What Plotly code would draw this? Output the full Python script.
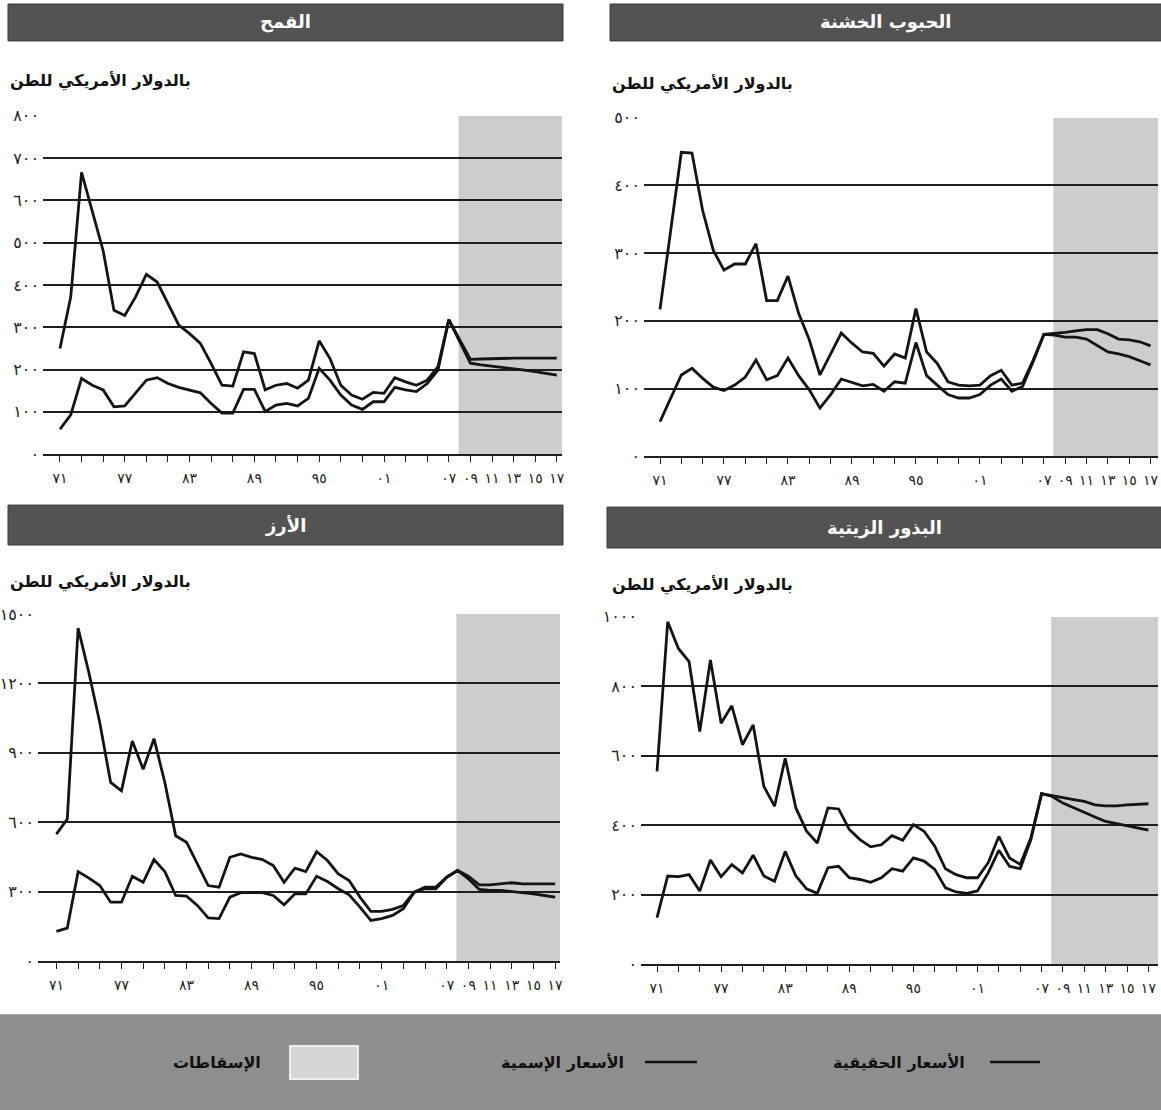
import plotly.graph_objects as go

# ---------------- data ----------------
years = list(range(1971, 2018))

wheat_real = [250, 372, 666, 576, 481, 340, 328, 372, 425, 407,
              356, 305, 285, 262, 214, 163, 161, 242, 238, 152,
              163, 167, 156, 175, 268, 226, 163, 140, 130, 146,
              144, 181, 171, 163, 175, 207, 318, 268, 215, 211,
              208, 206, 203, 199, 195, 191, 187]
wheat_nominal = [59, 93, 179, 163, 152, 112, 114, 144, 175, 181,
                 167, 158, 152, 145, 120, 97, 97, 153, 153, 101,
                 116, 120, 114, 132, 203, 175, 140, 116, 106, 124,
                 124, 158, 152, 148, 167, 199, 318, 270, 224, 225,
                 226, 226, 227, 227, 227, 227, 227]

coarse_real = [217, 333, 449, 448, 363, 304, 275, 284, 284, 314,
               230, 230, 266, 211, 172, 120, 152, 182, 167, 154,
               152, 133, 151, 145, 218, 154, 137, 110, 105, 104,
               105, 119, 127, 105, 108, 142, 180, 179, 176, 176,
               173, 164, 154, 151, 147, 141, 135]
coarse_nominal = [51, 86, 120, 130, 115, 102, 97, 105, 117, 142,
                  113, 119, 145, 119, 98, 71, 91, 114, 109, 104,
                  106, 96, 110, 108, 168, 119, 105, 91, 86, 86,
                  91, 105, 114, 96, 103, 140, 180, 181, 183, 185,
                  187, 187, 181, 173, 172, 169, 163]

rice_real = [549, 614, 1439, 1245, 1030, 772, 736, 951, 829, 961,
             772, 542, 514, 420, 327, 320, 449, 463, 449, 439,
             413, 341, 402, 387, 473, 435, 377, 349, 277, 215,
             215, 224, 241, 298, 320, 320, 363, 392, 356, 310,
             306, 306, 301, 298, 291, 284, 277]
rice_nominal = [129, 143, 387, 359, 327, 255, 255, 367, 341, 439,
                387, 284, 281, 241, 187, 184, 277, 296, 296, 296,
                284, 244, 291, 291, 367, 344, 313, 287, 234, 176,
                184, 198, 227, 298, 313, 313, 363, 392, 367, 330,
                330, 334, 339, 334, 334, 334, 334]

oil_real = [555, 986, 909, 871, 670, 876, 694, 744, 632, 689,
            512, 455, 593, 450, 383, 349, 450, 447, 388, 359,
            338, 344, 370, 357, 402, 383, 340, 275, 258, 249,
            249, 292, 368, 306, 287, 364, 491, 483, 464, 450,
            437, 424, 411, 405, 399, 392, 386]
oil_nominal = [134, 254, 252, 258, 211, 300, 252, 287, 263, 314,
               254, 239, 325, 254, 217, 204, 278, 282, 249, 244,
               236, 249, 275, 268, 306, 297, 273, 220, 208, 204,
               211, 263, 328, 282, 275, 359, 491, 485, 478, 474,
               469, 459, 456, 456, 459, 461, 462]

projection_start = 2007.9

x_tick_vals = [1971, 1973, 1975, 1977, 1979, 1981, 1983, 1985, 1987, 1989,
               1991, 1993, 1995, 1997, 1999, 2001, 2003, 2005, 2007, 2009,
               2011, 2013, 2015, 2017]
x_tick_named = {1971: "٧١", 1977: "٧٧", 1983: "٨٣", 1989: "٨٩", 1995: "٩٥",
                2001: "٠١", 2007: "٠٧", 2009: "٠٩", 2011: "١١", 2013: "١٣",
                2015: "١٥", 2017: "١٧"}
x_tick_text = [x_tick_named.get(v, "") for v in x_tick_vals]

wheat_ticks = [0, 100, 200, 300, 400, 500, 600, 700, 800]
wheat_ticktext = ["٠", "١٠٠", "٢٠٠", "٣٠٠", "٤٠٠", "٥٠٠", "٦٠٠", "٧٠٠", "٨٠٠"]
coarse_ticks = [0, 100, 200, 300, 400, 500]
coarse_ticktext = ["٠", "١٠٠", "٢٠٠", "٣٠٠", "٤٠٠", "٥٠٠"]
rice_ticks = [0, 300, 600, 900, 1200, 1500]
rice_ticktext = ["٠", "٣٠٠", "٦٠٠", "٩٠٠", "١٢٠٠", "١٥٠٠"]
oil_ticks = [0, 200, 400, 600, 800, 1000]
oil_ticktext = ["٠", "٢٠٠", "٤٠٠", "٦٠٠", "٨٠٠", "١٠٠٠"]

titles = ["القمح", "الحبوب الخشنة", "الأرز", "البذور الزيتية"]
unit_label = "بالدولار الأمريكي للطن"
legend_real = "الأسعار الحقيقية"
legend_nominal = "الأسعار الإسمية"
legend_proj = "الإسقاطات"

# ---------------- layout geometry (target pixels) ----------------
W, H = 1161, 1110
EFF_W, EFF_H, TOP = 1158, 1093, 8
FONT = "DejaVu Sans"


def fx(p):
    return p / EFF_W


def fy(p):
    return 1 - (p - TOP) / EFF_H


def clamp(v):
    return max(0.0, min(1.0, v))


panels = [
    dict(title=titles[0], real=wheat_real, nom=wheat_nominal,
         ticks=wheat_ticks, ticktext=wheat_ticktext,
         xdom=(43, 562), xr=(1969.43, 2017.48), ydom=(115, 454),
         bar=(8, 563, 3, 40), unit=(8, 80)),
    dict(title=titles[1], real=coarse_real, nom=coarse_nominal,
         ticks=coarse_ticks, ticktext=coarse_ticktext,
         xdom=(644, 1161), xr=(1969.5, 2017.7), ydom=(117, 456),
         bar=(610, 1165, 3, 40), unit=(610, 83)),
    dict(title=titles[2], real=rice_real, nom=rice_nominal,
         ticks=rice_ticks, ticktext=rice_ticktext,
         xdom=(38, 560), xr=(1969.3, 2017.45), ydom=(614, 962),
         bar=(8, 563, 505, 545), unit=(8, 582)),
    dict(title=titles[3], real=oil_real, nom=oil_nominal,
         ticks=oil_ticks, ticktext=oil_ticktext,
         xdom=(641, 1161), xr=(1969.5, 2017.9), ydom=(617, 965),
         bar=(607, 1165, 507, 548), unit=(610, 585)),
]

fig = go.Figure()
shapes = []
annotations = []
layout_axes = {}

for i, p in enumerate(panels):
    n = "" if i == 0 else str(i + 1)
    xref, yref = "x" + n, "y" + n
    shapes.append(dict(type="rect", xref=xref, yref=yref,
                       x0=projection_start, x1=p["xr"][1],
                       y0=0, y1=p["ticks"][-1],
                       fillcolor="#cdcdcd", line=dict(width=0), layer="below"))
    for series in (p["real"], p["nom"]):
        fig.add_trace(go.Scatter(x=years, y=series, mode="lines",
                                 line=dict(color="#141414", width=2.8),
                                 xaxis=xref, yaxis=yref, showlegend=False,
                                 hoverinfo="skip"))
    layout_axes["xaxis" + n] = dict(
        domain=[clamp(fx(p["xdom"][0])), clamp(fx(p["xdom"][1]))],
        range=list(p["xr"]),
        anchor=yref, showgrid=False, zeroline=False,
        showline=True, linecolor="#1e1e1e", linewidth=1.8,
        ticks="outside", ticklen=6, tickwidth=1.4, tickcolor="#1e1e1e",
        tickvals=x_tick_vals, ticktext=x_tick_text,
        tickfont=dict(family=FONT, size=14, color="#222"),
        ticklabelstandoff=4, fixedrange=True)
    layout_axes["yaxis" + n] = dict(
        domain=[clamp(fy(p["ydom"][1])), clamp(fy(p["ydom"][0]))],
        range=[0, p["ticks"][-1]], anchor=xref,
        showgrid=True, gridcolor="#1e1e1e", gridwidth=1.6,
        zeroline=False, showline=False, ticks="",
        tickvals=p["ticks"], ticktext=p["ticktext"],
        tickfont=dict(family=FONT, size=16, color="#222"),
        ticklabelstandoff=3, fixedrange=True)
    x0, x1, y0, y1 = p["bar"]
    shapes.append(dict(type="rect", xref="paper", yref="paper",
                       x0=fx(x0), x1=fx(x1), y0=fy(y1), y1=fy(y0),
                       fillcolor="#535353", line=dict(color="#3a3a3a", width=1),
                       layer="above"))
    annotations.append(dict(xref="paper", yref="paper",
                            x=fx((x0 + min(x1, 1161)) / 2), y=fy((y0 + y1) / 2),
                            text="<b>" + p["title"] + "</b>", showarrow=False,
                            font=dict(family=FONT, size=18, color="white"),
                            xanchor="center", yanchor="middle"))
    annotations.append(dict(xref="paper", yref="paper",
                            x=fx(p["unit"][0]), y=fy(p["unit"][1]),
                            text="<b>" + unit_label + "</b>", showarrow=False,
                            font=dict(family=FONT, size=16, color="#111"),
                            xanchor="left", yanchor="middle"))

# legend band (extends past the bottom edge)
shapes.append(dict(type="rect", xref="paper", yref="paper",
                   x0=-0.02, x1=1.02, y0=fy(1130), y1=fy(1015),
                   fillcolor="#8e8e8e", line=dict(width=0), layer="above"))
ly = 1063
shapes.append(dict(type="line", xref="paper", yref="paper",
                   x0=fx(990), x1=fx(1040), y0=fy(ly), y1=fy(ly),
                   line=dict(color="#111", width=2.4), layer="above"))
annotations.append(dict(xref="paper", yref="paper", x=fx(967), y=fy(ly),
                        text="<b>" + legend_real + "</b>", showarrow=False,
                        xanchor="right", yanchor="middle",
                        font=dict(family=FONT, size=16, color="#111")))
shapes.append(dict(type="line", xref="paper", yref="paper",
                   x0=fx(645), x1=fx(697), y0=fy(ly), y1=fy(ly),
                   line=dict(color="#111", width=2.4), layer="above"))
annotations.append(dict(xref="paper", yref="paper", x=fx(626), y=fy(ly),
                        text="<b>" + legend_nominal + "</b>", showarrow=False,
                        xanchor="right", yanchor="middle",
                        font=dict(family=FONT, size=16, color="#111")))
shapes.append(dict(type="rect", xref="paper", yref="paper",
                   x0=fx(290), x1=fx(358), y0=fy(1080), y1=fy(1047),
                   fillcolor="#d6d6d6", line=dict(color="#eeeeee", width=2),
                   layer="above"))
annotations.append(dict(xref="paper", yref="paper", x=fx(263), y=fy(ly),
                        text="<b>" + legend_proj + "</b>", showarrow=False,
                        xanchor="right", yanchor="middle",
                        font=dict(family=FONT, size=16, color="#111")))

fig.update_layout(
    width=W, height=H, autosize=False,
    margin=dict(l=0, r=0, t=0, b=0),
    paper_bgcolor="white", plot_bgcolor="rgba(0,0,0,0)",
    showlegend=False, shapes=shapes, annotations=annotations,
    font=dict(family=FONT),
    **layout_axes)

fig.write_html(
    "out.html",
    config={"displayModeBar": False, "responsive": False},
    post_script="document.body.style.margin='0';document.body.style.padding='0';"
                "document.body.style.overflow='hidden';"
                "document.documentElement.style.overflow='hidden';")
